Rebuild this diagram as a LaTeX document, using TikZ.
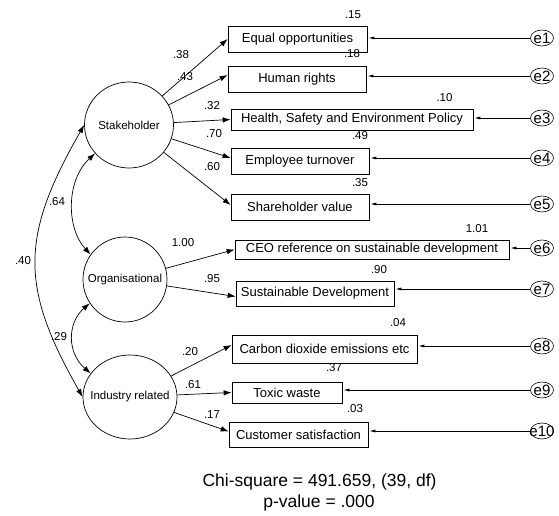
\documentclass[tikz,border=0pt]{standalone}
\usepackage{fontspec}
\setmainfont{Liberation Sans}
\usetikzlibrary{arrows.meta,shapes.geometric}
\begin{document}
\begin{tikzpicture}[x=1pt,y=-1pt,
 box/.style={draw,line width=0.7pt,inner sep=0pt,font=\fontsize{13}{13}\selectfont},
 lat/.style={draw,ellipse,line width=0.7pt,inner sep=0pt,label={[font=\fontsize{11.5}{12}\selectfont]center:#1}},
 err/.style={draw,ellipse,line width=0.6pt,inner sep=0pt,minimum width=23pt,minimum height=16pt,label={[font=\fontsize{15}{15}\selectfont]center:#1}},
 num/.style={font=\fontsize{11.5}{12}\selectfont,inner sep=0pt},
 load/.style={line width=0.7pt,-{Latex[length=8pt,width=5.5pt]}},
 eload/.style={line width=0.7pt,-{Latex[length=6pt,width=3pt]},shorten >=1pt},
 cor/.style={line width=0.7pt,{Latex[length=8pt,width=5.5pt]}-{Latex[length=8pt,width=5.5pt]}},
]
\useasboundingbox (0,0) rectangle (559,516);

% latent variables
\node[lat=Stakeholder,minimum width=89pt,minimum height=86pt] (st) at (129,125) {};
\node[lat=Organisational,minimum width=84pt,minimum height=85pt] (org) at (125,279.5) {};
\node[lat=Industry related,minimum width=94pt,minimum height=84pt] (ind) at (130,397) {};

% observed variables
\node[box,minimum width=139pt,minimum height=26pt] (b1) at (297.5,39) {Equal opportunities};
\node[box,minimum width=138pt,minimum height=26pt] (b2) at (297,79) {Human rights};
\node[box,minimum width=242pt,minimum height=21pt] (b3) at (352,119.5) {Health, Safety and Environment Policy};
\node[box,minimum width=138pt,minimum height=26pt] (b4) at (300,161) {Employee turnover};
\node[box,minimum width=138pt,minimum height=26pt] (b5) at (300,207) {Shareholder value};
\node[box,minimum width=274pt,minimum height=19pt] (b6) at (372,249.5) {CEO reference on sustainable development};
\node[box,minimum width=158pt,minimum height=25pt] (b7) at (315,293.5) {Sustainable Development};
\node[box,minimum width=185pt,minimum height=28pt] (b8) at (324.5,349) {Carbon dioxide emissions etc};
\node[box,minimum width=110pt,minimum height=21pt] (b9) at (287,392.5) {Toxic waste};
\node[box,minimum width=139pt,minimum height=25pt] (b10) at (298.5,434.5) {Customer satisfaction};

% error terms
\node[err=e1] (e1) at (542,38) {};
\node[err=e2] (e2) at (542,76) {};
\node[err=e3] (e3) at (542,118) {};
\node[err=e4] (e4) at (542,158) {};
\node[err=e5] (e5) at (542,204) {};
\node[err=e6] (e6) at (542,248) {};
\node[err=e7] (e7) at (542,289) {};
\node[err=e8] (e8) at (542,346) {};
\node[err=e9] (e9) at (542,390) {};
\node[err=e10] (e10) at (542,431) {};

% loadings
\draw[load] (st) -- (b1.west);
\draw[load] (st) -- ([yshift=4pt]b2.west);
\draw[load] (st) -- (b3.west);
\draw[load] (st) -- ([yshift=3pt]b4.west);
\draw[load] (st) -- ([yshift=2pt]b5.west);
\draw[load] (org) -- (b6.west);
\draw[load] (org) -- ([yshift=-3pt]b7.west);
\draw[load] (ind) -- ([yshift=4pt]b8.west);
\draw[load] (ind) -- (b9.west);
\draw[load] (ind) -- ([yshift=3pt]b10.west);

% error arrows
\draw[eload] (e1) -- (e1 -| b1.east);
\draw[eload] (e2) -- (e2 -| b2.east);
\draw[eload] (e3) -- (e3 -| b3.east);
\draw[eload] (e4) -- (e4 -| b4.east);
\draw[eload] (e5) -- (e5 -| b5.east);
\draw[eload] (e6) -- (e6 -| b6.east);
\draw[eload] (e7) -- (e7 -| b7.east);
\draw[eload] (e8) -- (e8 -| b8.east);
\draw[eload] (e9) -- (e9 -| b9.east);
\draw[eload] (e10) -- (e10 -| b10.east);

% correlations
\draw[cor] (st.220) .. controls (66,180) and (66,228) .. (org.144);
\draw[cor] (org.214) .. controls (67,323) and (67,353) .. (ind.149);
\draw[cor] (st.180) .. controls (20,237) and (20,287) .. (ind.180);

% loading labels
\node[num] (l1) at (181,55) {.38};
\node[num] (l2) at (185,77) {.43};
\node[num] (l3) at (212,106) {.32};
\node[num] (l4) at (214,134) {.70};
\node[num] (l5) at (212,167) {.60};
\node[num] (l6) at (183,243) {1.00};
\node[num] (l7) at (212,279) {.95};
\node[num] (l8) at (190,352) {.20};
\node[num] (l9) at (193,385) {.61};
\node[num] (l10) at (212,415) {.17};

% squared multiple correlations
\node[num] (r1) at (353,15) {.15};
\node[num] (r2) at (352,54) {.18};
\node[num] (r3) at (444.5,98) {.10};
\node[num] (r4) at (360,136) {.49};
\node[num] (r5) at (360,183) {.35};
\node[num] (r6) at (477,229) {1.01};
\node[num] (r7) at (379,270) {.90};
\node[num] (r8) at (398,323) {.04};
\node[num] (r9) at (334,368) {.37};
\node[num] (r10) at (355,409) {.03};

% correlation labels
\node[num] (c1) at (57,202) {.64};
\node[num] (c2) at (23,261) {.40};
\node[num] (c3) at (59,337) {.29};

% fit statistics
\node[font=\fontsize{17.5}{18}\selectfont,inner sep=0pt] (chi) at (319.5,482) {Chi-square = 491.659, (39, df)};
\node[font=\fontsize{17.5}{18}\selectfont,inner sep=0pt] (pv) at (319,503) {p-value = .000};
\end{tikzpicture}
\end{document}
